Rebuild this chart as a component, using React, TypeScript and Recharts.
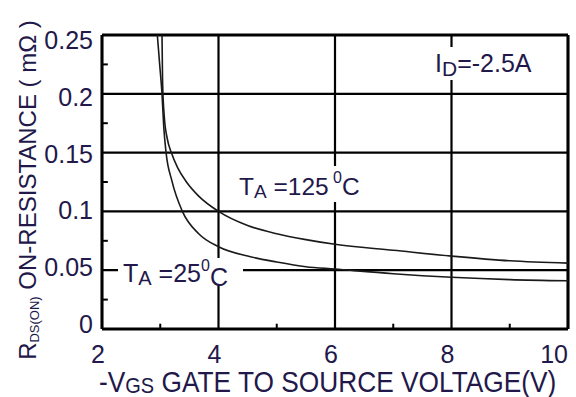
import React from "react";
import { LineChart, Line, XAxis, YAxis, CartesianGrid, ReferenceLine } from "recharts";

const xTicks = [2, 4, 6, 8, 10];
const xTickLabels = ["2", "4", "6", "8", "10"];
const yTicks = [0, 0.05, 0.1, 0.15, 0.2, 0.25];
const yTickLabels = ["0", "0.05", "0.1", "0.15", "0.2", "0.25"];
const xMinor = [3, 5, 7, 9];
const yMinor = [0.025, 0.075, 0.125, 0.175, 0.225];

const vgs25 = [2.95, 2.99, 3.03, 3.06, 3.1, 3.2, 3.38, 3.66, 4, 4.5, 5, 5.5, 6, 7, 8, 9, 10];
const rds25 = [0.25, 0.225, 0.2, 0.172, 0.15, 0.126, 0.1, 0.081, 0.07, 0.062, 0.057, 0.053, 0.051, 0.047, 0.044, 0.042, 0.041];
const vgs125 = [3.03, 3.04, 3.07, 3.12, 3.19, 3.3, 3.45, 3.66, 4, 4.5, 5, 5.5, 6, 7, 8, 9, 10];
const rds125 = [0.25, 0.21, 0.18, 0.162, 0.15, 0.137, 0.125, 0.113, 0.1, 0.088, 0.081, 0.076, 0.072, 0.067, 0.062, 0.058, 0.056];

const data25 = vgs25.map((v, i) => ({ v, r: rds25[i] }));
const data125 = vgs125.map((v, i) => ({ v, r: rds125[i] }));

const FONT = "'Liberation Sans', Arial, sans-serif";
const TXT = "#22184a";
const W = 576;
const H = 397;
const M = { top: 35, right: 8, bottom: 38, left: 42 };

const YTick = (props: any) => {
  const { x, y, payload } = props;
  const idx = yTicks.indexOf(payload.value);
  const off = -5 + (idx / (yTicks.length - 1)) * 10;
  return (
    <text x={x} y={y + off} textAnchor="end" dominantBaseline="central" fontSize={25} fill={TXT} fontFamily={FONT}>
      {yTickLabels[idx]}
    </text>
  );
};

const XTick = (props: any) => {
  const { x, y, payload } = props;
  const idx = xTicks.indexOf(payload.value);
  const last = idx === xTicks.length - 1;
  return (
    <text x={last ? x : x - 4} y={y + 34} textAnchor={last ? "end" : "middle"} fontSize={25} fill={TXT} fontFamily={FONT}>
      {xTickLabels[idx]}
    </text>
  );
};

export default function App() {
  return (
    <div style={{ position: "absolute", left: 0, top: 0, width: W, height: H, background: "#fff" }}>
      <LineChart width={W} height={H} margin={M}>
        <CartesianGrid stroke="#000" strokeWidth={2.2} />
        <XAxis
          type="number"
          dataKey="v"
          domain={[2, 10]}
          ticks={xTicks}
          tick={<XTick />}
          tickLine={false}
          tickSize={0}
          tickMargin={0}
          height={30}
          axisLine={{ stroke: "#000", strokeWidth: 3 }}
          allowDataOverflow
        />
        <YAxis
          type="number"
          domain={[0, 0.25]}
          ticks={yTicks}
          tick={<YTick />}
          tickLine={false}
          tickSize={0}
          tickMargin={9}
          width={60}
          axisLine={{ stroke: "#000", strokeWidth: 3 }}
          allowDataOverflow
        />
        <ReferenceLine y={0.25} stroke="#000" strokeWidth={3} />
        <ReferenceLine x={10} stroke="#000" strokeWidth={3} />
        {xMinor.map((m) => (
          <ReferenceLine key={"xm" + m} segment={[{ x: m, y: 0 }, { x: m, y: 0.0045 }]} stroke="#000" strokeWidth={2} />
        ))}
        {yMinor.map((m) => (
          <ReferenceLine key={"ym" + m} segment={[{ x: 2, y: m }, { x: 2.1, y: m }]} stroke="#000" strokeWidth={2} />
        ))}
        <Line data={data125} dataKey="r" type="monotone" stroke="#1a1a1a" strokeWidth={1.6} dot={false} isAnimationActive={false} />
        <Line data={data25} dataKey="r" type="monotone" stroke="#1a1a1a" strokeWidth={1.6} dot={false} isAnimationActive={false} />
      </LineChart>
      <svg width={W} height={H} style={{ position: "absolute", left: 0, top: 0, pointerEvents: "none" }} fontFamily={FONT}>
        <rect x={432} y={47} width={113} height={33} fill="#fff" />
        <text x={435} y={72} fontSize={25} fill={TXT}>
          I<tspan fontSize={21} dy={4}>D</tspan>
          <tspan dy={-4}>=-2.5A</tspan>
        </text>
        <rect x={235} y={166} width={137} height={36} fill="#fff" />
        <text x={239} y={195} fontSize={24.5} fill={TXT}>
          T<tspan fontSize={19} dy={3}>A</tspan>
          <tspan dy={-3}> =125</tspan>
          <tspan fontSize={16} dy={-12}> 0</tspan>
          <tspan dy={12}>C</tspan>
        </text>
        <rect x={118} y={258} width={125} height={27} fill="#fff" />
        <text x={123} y={282} fontSize={25} fill={TXT}>
          T<tspan fontSize={20} dy={3}>A</tspan>
          <tspan dy={-3}> =25</tspan>
          <tspan fontSize={16} dy={-11}>0</tspan>
          <tspan dy={15}>C</tspan>
        </text>
        <text x={36} y={190} transform="rotate(-90 36 190)" textAnchor="middle" fontSize={24} fill={TXT}>
          R<tspan fontSize={13} dy={3}>DS(ON)</tspan>
          <tspan dy={-3}> ON-RESISTANCE ( mΩ )</tspan>
        </text>
        <g transform="translate(99 392) scale(1 1.12)">
          <text x={0} y={0} fontSize={26.3} fill={TXT}>
            -V<tspan fontSize={20} dy={1}>GS</tspan>
            <tspan dy={-1}> GATE TO SOURCE VOLTAGE(V)</tspan>
          </text>
        </g>
      </svg>
    </div>
  );
}
